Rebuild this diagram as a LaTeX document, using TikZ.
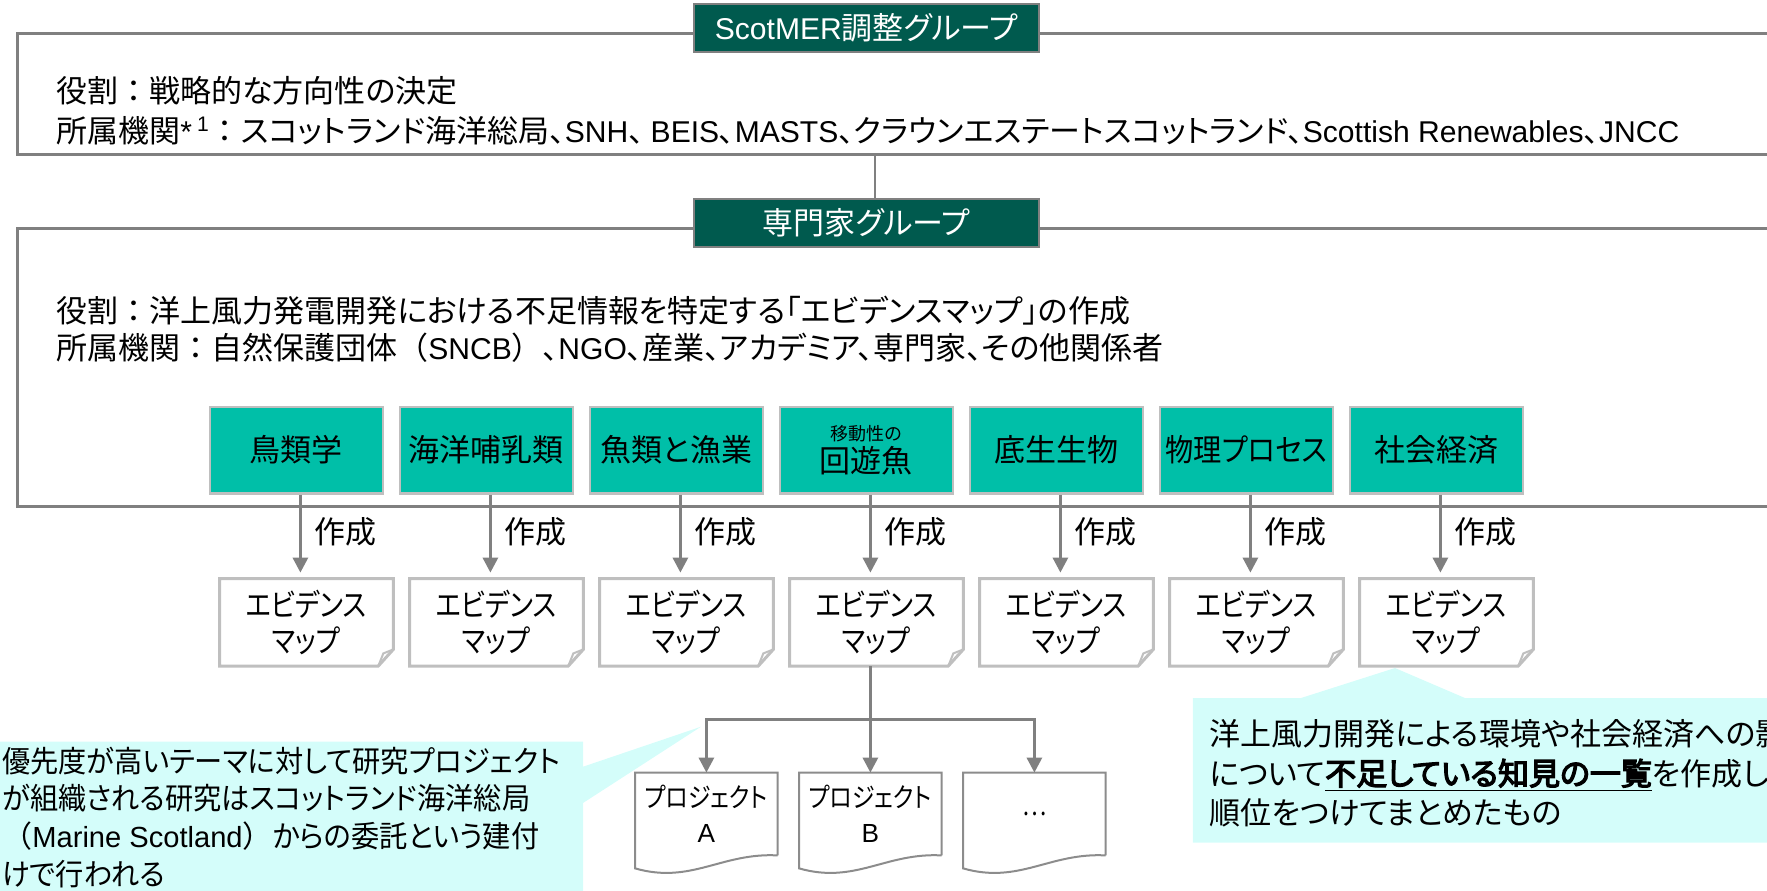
\documentclass[tikz,border=0pt]{standalone}
\usepackage{fontspec}
\setmainfont{Noto Sans CJK JP}[RawFeature=+palt]
\newfontfamily\lat{Liberation Sans}[Scale=0.97]
\newfontfamily\jpfull{Noto Sans CJK JP}
\newfontfamily\jpnarrow{Noto Sans CJK JP}[RawFeature=+palt,FakeStretch=0.85]
\newfontfamily\jpmid{Noto Sans CJK JP}[RawFeature=+palt,FakeStretch=0.91]
\newfontfamily\jpcall{Noto Sans CJK JP}[RawFeature=+palt,FakeStretch=0.94]
\newfontfamily\jpbold{Noto Sans CJK JP}[RawFeature=+palt,FakeBold=4]
\newcommand\fwc[1]{{\jpfull #1}}
\usetikzlibrary{arrows.meta}
\definecolor{dkgreen}{RGB}{0,90,78}
\definecolor{tealbox}{RGB}{0,191,168}
\definecolor{lgray}{RGB}{191,191,191}
\definecolor{mgray}{RGB}{128,128,128}
\definecolor{dgray}{RGB}{140,140,140}
\definecolor{callout}{RGB}{212,253,250}
\tikzset{
  groupframe/.style={draw=mgray, line width=1.5pt, inner sep=0pt, anchor=north west},
  grouptitle/.style={draw=mgray, line width=1.2pt, fill=dkgreen, text=white, minimum width=172.5pt, minimum height=24pt, inner sep=0pt, font=\fontsize{15.5pt}{18pt}\selectfont},
  txt/.style={inner sep=0pt, anchor=base west, font=\fontsize{15.5pt}{18pt}\selectfont},
  topic/.style={draw=lgray, line width=1.2pt, fill=tealbox, minimum width=86.5pt, minimum height=43.3pt, inner sep=0pt, align=center, font=\fontsize{15.5pt}{18pt}\selectfont},
  evmap/.style={minimum width=86.5pt, minimum height=43.3pt, inner sep=0pt, align=center, font=\fontsize{15.5pt}{18pt}\jpnarrow},
  evline/.style={draw=lgray, line width=1.5pt, line join=miter},
  conn/.style={draw=mgray, line width=1.5pt},
  arr/.style={conn, -{Triangle[width=7.5pt,length=7.5pt]}},
  docbox/.style={minimum width=70.8pt, minimum height=41pt, inner sep=0pt, align=center, font=\fontsize{13.5pt}{17.5pt}\jpnarrow},
  docline/.style={draw=dgray, line width=1pt},
  lbl/.style={inner sep=0pt, anchor=west, font=\fontsize{15.5pt}{18pt}\selectfont},
  ctxtl/.style={inner sep=0pt, anchor=base west, font=\fontsize{15pt}{18pt}\jpcall},
  ctxtr/.style={inner sep=0pt, anchor=base west, font=\fontsize{15.5pt}{18pt}\selectfont},
}
\begin{document}
\begin{tikzpicture}[x=0.5pt,y=-0.5pt]
\useasboundingbox (0,0) rectangle (1767,890);
\clip (0,0) rectangle (1767,890);

% callout backgrounds
\fill[callout] (-5,741.7) -- (583,741.7) -- (583,766.7) -- (701,726.7) -- (583,803) -- (583,900) -- (-5,900) -- cycle;
\fill[callout] (1192.8,698) -- (1301,698) -- (1395,668) -- (1465,698) -- (1800,698) -- (1800,842.7) -- (1192.8,842.7) -- cycle;

% group frames
\node[groupframe, minimum width=892pt, minimum height=60.5pt] (cgbox) at (16,32) {};
\node[groupframe, minimum width=892pt, minimum height=139pt] (exbox) at (16,227) {};

% group titles
\node[grouptitle] (cgt) at (866.5,28) {{\lat ScotMER}調整グループ};
\node[grouptitle] (ext) at (866.5,223) {専門家グループ};
\coordinate (cx) at (874.5,0);
\draw[conn, line width=1pt] (cgbox.south -| cx) -- (ext.north -| cx);

% texts in frames
\node[txt] (r1) at (56,102) {役割\fwc{：}戦略的な方向性の決定};
\node[txt] (m1) at (56,142) {所属機関{\lat *\,\textsuperscript{1}}\fwc{：}スコットランド海洋総局、{\lat SNH}、 {\lat BEIS}、{\lat MASTS}、クラウンエステートスコットランド、{\lat Scottish Renewables}、{\lat JNCC}};
\node[txt] (r2) at (56,322) {役割\fwc{：}洋上風力発電開発における不足情報を特定する「エビデンスマップ」の作成};
\node[txt] (m2) at (56,359) {所属機関\fwc{：}自然保護団体\fwc{（}{\lat SNCB}\fwc{）}、{\lat NGO}、産業、アカデミア、専門家、その他関係者};

% topic boxes
\node[topic] (t1) at (296.4,450) {鳥類学};
\node[topic] (t2) at (486.4,450) {海洋哺乳類};
\node[topic] (t3) at (676.4,450) {魚類と漁業};
\node[topic] (t4) at (866.4,450) {{\fontsize{9pt}{10pt}\selectfont 移動性の}\\[-2pt]回遊魚};
\node[topic] (t5) at (1056.4,450) {底生生物};
\node[topic] (t6) at (1246.4,450) {{\jpmid 物理プロセス}};
\node[topic] (t7) at (1436.4,450) {社会経済};

% evidence maps
\node[evmap] (e1) at (306.4,622.3) {エビデンス\\マップ};
\node[evmap] (e2) at (496.4,622.3) {エビデンス\\マップ};
\node[evmap] (e3) at (686.4,622.3) {エビデンス\\マップ};
\node[evmap] (e4) at (876.4,622.3) {エビデンス\\マップ};
\node[evmap] (e5) at (1066.4,622.3) {エビデンス\\マップ};
\node[evmap] (e6) at (1256.4,622.3) {エビデンス\\マップ};
\node[evmap] (e7) at (1446.4,622.3) {エビデンス\\マップ};
\foreach \n in {e1,e2,e3,e4,e5,e6,e7}{
  \draw[evline] (\n.north west) -- (\n.north east) -- ([yshift=8.3pt]\n.south east) -- ([xshift=-7.5pt]\n.south east) -- (\n.south west) -- cycle;
  \draw[evline, line width=1pt] ([yshift=8.3pt]\n.south east) -- ([xshift=-5pt,yshift=6.3pt]\n.south east) -- ([xshift=-7.5pt]\n.south east);
}

% arrows
\foreach \i in {1,...,7}{
  \draw[arr, shorten >=3pt] ([xshift=2pt]t\i.south) -- ([xshift=2pt]t\i.south |- e\i.north);
}
\node[lbl] (c1) at (314.4,532) {作成};
\node[lbl] (c2) at (504.4,532) {作成};
\node[lbl] (c3) at (694.4,532) {作成};
\node[lbl] (c4) at (884.4,532) {作成};
\node[lbl] (c5) at (1074.4,532) {作成};
\node[lbl] (c6) at (1264.4,532) {作成};
\node[lbl] (c7) at (1454.4,532) {作成};

% projects
\node[docbox] (pA) at (706.4,814) {プロジェクト\\{\lat A}};
\node[docbox] (pB) at (870.4,814) {プロジェクト\\{\lat B}};
\node[docbox] (pC) at (1034.4,814) {…};
\foreach \n in {pA,pB,pC}{
  \draw[docline] (\n.south east) -- (\n.north east) -- (\n.north west) -- ([yshift=-6.5pt]\n.south west) .. controls ([xshift=28pt,yshift=-14.5pt]\n.south west) and ([xshift=-28pt,yshift=1.5pt]\n.south east) .. (\n.south east);
}
\coordinate (br) at (0,719);
\draw[arr] (e4.south -| pB.north) -- (pB.north);
\draw[arr] (pB.north |- br) -| (pA.north);
\draw[arr] (pB.north |- br) -| (pC.north);

% callout texts
\node[ctxtl] (l1) at (2,772) {優先度が高いテーマに対して研究プロジェクト};
\node[ctxtl] (l2) at (2,809) {が組織される研究はスコットランド海洋総局};
\node[ctxtl] (l3) at (2,847) {\fwc{（}{\lat Marine Scotland}\fwc{）}からの委託という建付};
\node[ctxtl] (l4) at (2,885) {けで行われる};
\node[ctxtr] (k1) at (1209,745.5) {洋上風力開発による環境や社会経済への影響};
\node[ctxtr] (k2) at (1209,785) {について\underline{\jpbold 不足している知見の一覧}を作成し優先};
\node[ctxtr] (k3) at (1209,824) {順位をつけてまとめたもの};
\end{tikzpicture}
\end{document}
